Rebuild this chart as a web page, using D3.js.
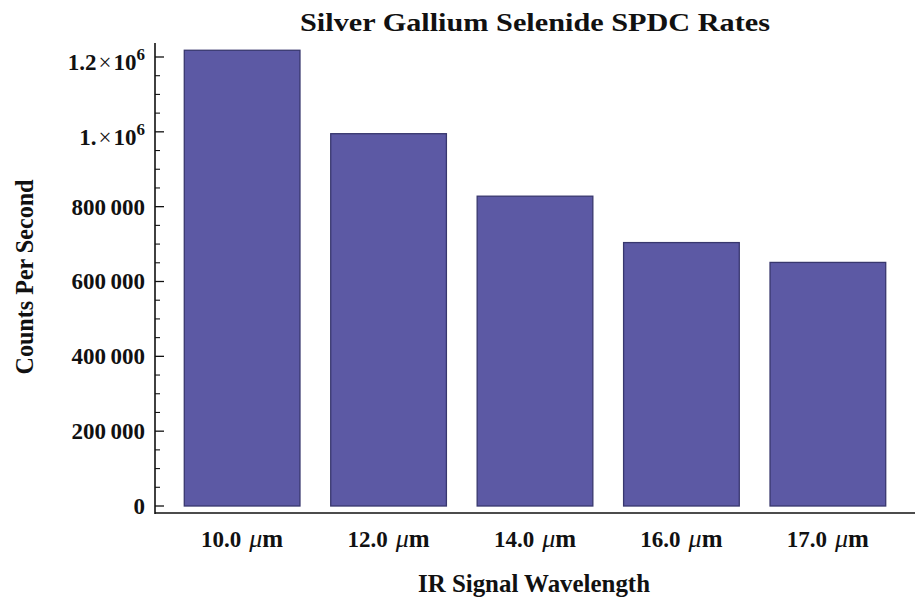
<!DOCTYPE html>
<html><head><meta charset="utf-8">
<script src="https://cdn.jsdelivr.net/npm/d3@7"></script>
<style>body{margin:0;background:#fff}svg{display:block}text{font-family:"Liberation Serif","Times New Roman",serif;font-weight:bold;fill:#111}</style>
</head><body><svg id="c" width="915" height="603"></svg>
<script>
const categories = ["10.0", "12.0", "14.0", "16.0", "17.0"];
const values = [1218000, 995000, 828000, 704000, 651000];
const majorTicks = [0, 200000, 400000, 600000, 800000, 1000000, 1200000];
const tickLabels = [["0"], ["200\u2009000"], ["400\u2009000"], ["600\u2009000"], ["800\u2009000"], ["1.", "6"], ["1.2", "6"]];
const title = "Silver Gallium Selenide SPDC Rates";
const xTitle = "IR Signal Wavelength";
const yTitle = "Counts Per Second";

(function () {
const svg = d3.select("#c");
const pL = 155, pR = 915, pT = 43, pB = 513;

const y = d3.scaleLinear().domain([-18700, 1237400]).range([pB, pT]);
const x = d3.scaleBand().domain(categories).range([pL, pR]).paddingInner(0.21).paddingOuter(0.2);

// bars
svg.append("g").selectAll("rect").data(values).join("rect")
  .attr("x", (d, i) => x(categories[i]))
  .attr("width", x.bandwidth())
  .attr("y", d => y(d))
  .attr("height", d => y(0) - y(d))
  .attr("fill", "#5c59a4")
  .attr("stroke", "#38376e")
  .attr("stroke-width", 1.3);

// y axis ticks
const minor = d3.range(0, 1200001, 50000).filter(v => v % 200000 !== 0);
const gy = svg.append("g");
gy.selectAll("line.mj").data(majorTicks).join("line").attr("class", "mj")
  .attr("x1", pL).attr("x2", pL + 9).attr("y1", d => y(d)).attr("y2", d => y(d))
  .attr("stroke", "#111").attr("stroke-width", 1.3);
gy.selectAll("line.mn").data(minor).join("line").attr("class", "mn")
  .attr("x1", pL).attr("x2", pL + 5).attr("y1", d => y(d)).attr("y2", d => y(d))
  .attr("stroke", "#111").attr("stroke-width", 1.1);

// y tick labels
majorTicks.forEach((v, i) => {
  const lab = tickLabels[i];
  const t = gy.append("text").attr("text-anchor", "end").attr("font-size", 23)
    .attr("x", 145).attr("y", y(v) + (lab.length > 1 ? 13 : 8));
  if (lab.length > 1) {
    t.append("tspan").text(lab[0]);
    t.append("tspan").attr("font-weight", "normal").attr("dx", 2).text("\u00d7");
    t.append("tspan").attr("dx", 2).text("10");
    t.append("tspan").attr("font-size", 17).attr("dy", -10).text(lab[1]);
  } else {
    t.text(lab[0]);
  }
});

// axes lines
svg.append("line").attr("x1", pL).attr("x2", pL).attr("y1", pT).attr("y2", pB + 1)
  .attr("stroke", "#111").attr("stroke-width", 1.6);
svg.append("line").attr("x1", pL).attr("x2", pR).attr("y1", pB).attr("y2", pB)
  .attr("stroke", "#111").attr("stroke-width", 1.6);

// x tick labels
categories.forEach(c => {
  const t = svg.append("text").attr("text-anchor", "middle").attr("font-size", 23)
    .attr("x", x(c) + x.bandwidth() / 2).attr("y", 547);
  t.append("tspan").text(c);
  t.append("tspan").attr("dx", 8).attr("font-style", "italic").attr("font-weight", "normal").attr("font-size", 26).text("\u03bc");
  t.append("tspan").attr("font-size", 25).text("m");
});

// titles
svg.append("text").attr("x", 535).attr("y", 31).attr("text-anchor", "middle")
  .attr("font-size", 26).attr("textLength", 470).attr("lengthAdjust", "spacingAndGlyphs").text(title);
svg.append("text").attr("x", 534).attr("y", 592).attr("text-anchor", "middle")
  .attr("font-size", 25).attr("textLength", 232).attr("lengthAdjust", "spacingAndGlyphs").text(xTitle);
svg.append("text").attr("transform", "translate(33,277) rotate(-90)").attr("text-anchor", "middle")
  .attr("font-size", 25).attr("textLength", 195).attr("lengthAdjust", "spacingAndGlyphs").text(yTitle);
})();
</script></body></html>
